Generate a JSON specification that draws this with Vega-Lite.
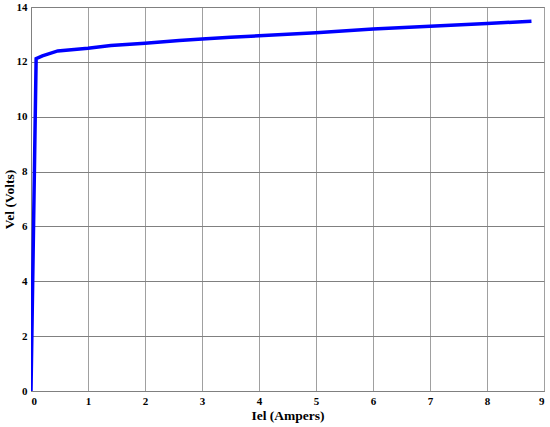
{
  "$schema": "https://vega.github.io/schema/vega-lite/v6.json",
  "width": 513,
  "height": 384,
  "autosize": {"type": "none"},
  "padding": {"left": 31, "top": 7, "right": 6, "bottom": 36},
  "background": "white",
  "data": {"values": [
    {"I": 0, "V": 0},
    {"I": 0.09, "V": 12.12},
    {"I": 0.2, "V": 12.22},
    {"I": 0.47, "V": 12.4},
    {"I": 1.0, "V": 12.5},
    {"I": 1.4, "V": 12.6},
    {"I": 2.0, "V": 12.68},
    {"I": 2.6, "V": 12.78},
    {"I": 3.0, "V": 12.83},
    {"I": 3.5, "V": 12.9},
    {"I": 4.0, "V": 12.95},
    {"I": 5.0, "V": 13.06},
    {"I": 6.0, "V": 13.2},
    {"I": 7.0, "V": 13.3},
    {"I": 8.0, "V": 13.4},
    {"I": 8.78, "V": 13.48}
  ]},
  "config": {
    "view": {"stroke": "#808080", "strokeWidth": 1},
    "font": "Liberation Serif"
  },
  "mark": {"type": "line", "color": "#0000ff", "strokeWidth": 3.5, "clip": true},
  "encoding": {
    "x": {"field": "I", "type": "quantitative", "scale": {"domain": [0, 9], "nice": false},
      "axis": {"title": "Iel (Ampers)", "values": [0,1,2,3,4,5,6,7,8,9], "grid": true, "gridColor": "#a0a0a0", "gridOpacity": 1,
        "domainColor": "#808080", "ticks": false, "labelFont": "Liberation Serif", "labelFontWeight": "bold", "labelFontSize": 11, "labelColor": "#000",
        "labelPadding": 4, "titleFont": "Liberation Serif", "titleFontWeight": "bold", "titleFontSize": 13.5, "titleColor": "#000", "titlePadding": 2}},
    "y": {"field": "V", "type": "quantitative", "scale": {"domain": [0, 14], "nice": false},
      "axis": {"title": "Vel (Volts)", "values": [0,2,4,6,8,10,12,14], "grid": true, "gridColor": "#808080", "gridOpacity": 1,
        "domainColor": "#808080", "ticks": false, "labelFont": "Liberation Serif", "labelFontWeight": "bold", "labelFontSize": 11, "labelColor": "#000",
        "labelPadding": 4, "titleFont": "Liberation Serif", "titleFontWeight": "bold", "titleFontSize": 13.5, "titleColor": "#000", "titlePadding": 0}}
  }
}
